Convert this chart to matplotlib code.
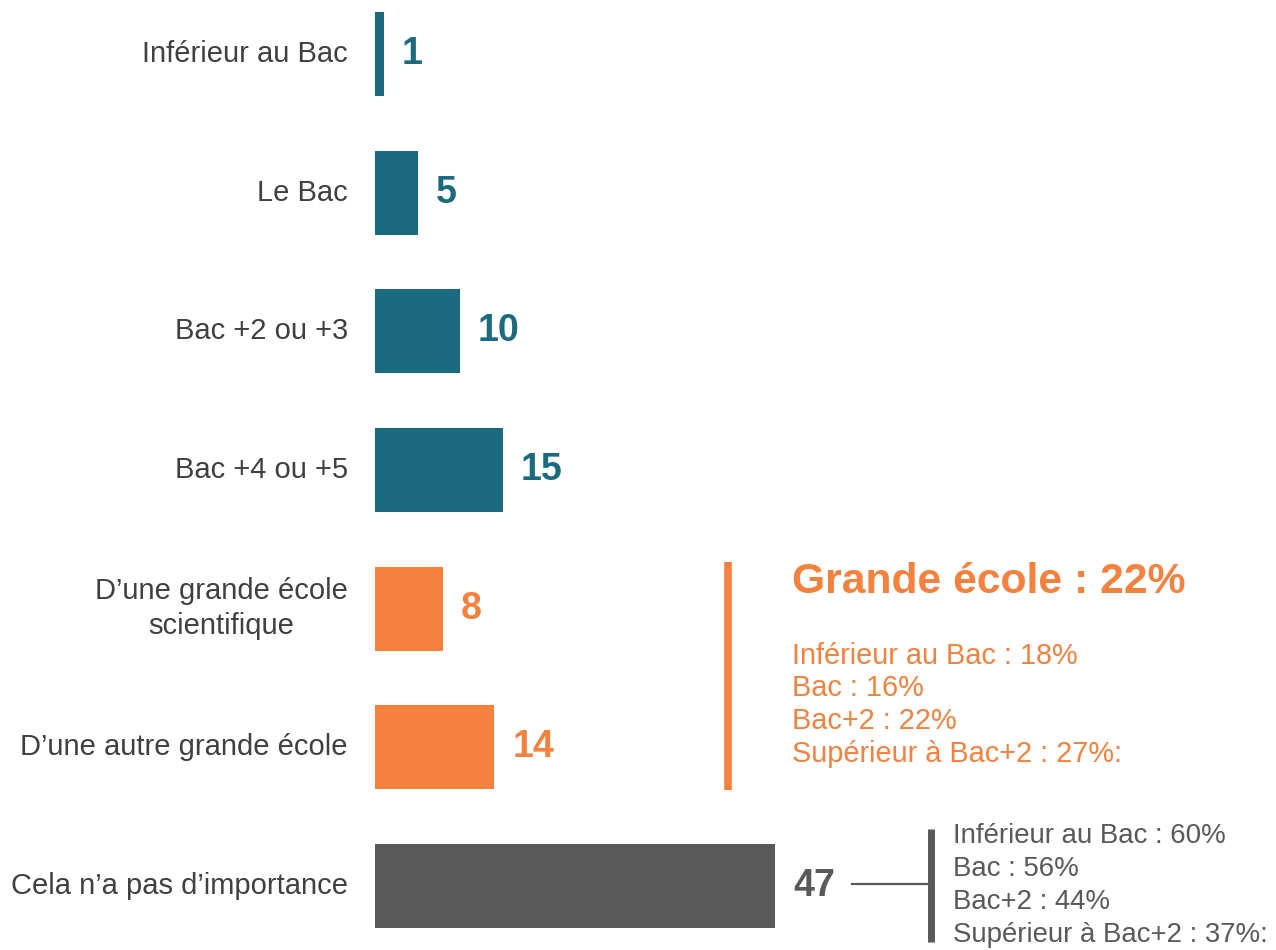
import matplotlib.pyplot as plt
from matplotlib.lines import Line2D

plt.rcParams['font.family'] = ['Liberation Sans', 'DejaVu Sans']

categories = ["Inférieur au Bac", "Le Bac", "Bac +2 ou +3", "Bac +4 ou +5",
              "D\u2019une grande école\nscientifique", "D\u2019une autre grande école",
              "Cela n\u2019a pas d\u2019importance"]
values = [1, 5, 10, 15, 8, 14, 47]

teal = "#1B6A80"
orange = "#F4813E"
gray = "#595959"
colors = [teal, teal, teal, teal, orange, orange, gray]

grande_title = "Grande école : 22%"
grande_lines = ["Inférieur au Bac : 18%", "Bac : 16%", "Bac+2 : 22%", "Supérieur à Bac+2 : 27%:"]
indiff_lines = ["Inférieur au Bac : 60%", "Bac : 56%", "Bac+2 : 44%", "Supérieur à Bac+2 : 37%:"]

W, H = 1276, 950
fig = plt.figure(figsize=(W / 100, H / 100), dpi=100)
ax = fig.add_axes([0, 0, 1, 1])

px = 400 / 47.0           # pixels per unit
step = 138.67             # pixels between bars
ax.set_xlim(-375 / px, (W - 375) / px)
ax.set_ylim((H - 54) / step, -54 / step)
ax.axis('off')

ypos = list(range(len(values)))
ax.barh(ypos, values, height=0.606, color=colors, left=0)

for y, v, c, lab in zip(ypos, values, colors, categories):
    ax.text(v + 18 / px, y, str(v), ha='left', va='center', fontsize=27,
            fontweight='bold', color=c)
    ax.text(-27 / px, y, lab, ha='right', va='center', fontsize=21,
            color='#404040', linespacing=1.3, multialignment='center')

def fx(x):
    return x / W

def fy(y):
    return 1 - y / H

# Grande école annotation
fig.add_artist(Line2D([fx(728), fx(728)], [fy(562), fy(790)], color=orange, lw=5.5,
                      solid_capstyle='butt'))
fig.text(fx(792), fy(582), grande_title, ha='left', va='center', fontsize=30.7,
         fontweight='bold', color=orange)
for i, t in enumerate(grande_lines):
    fig.text(fx(792), fy(656 + 32.5 * i), t, ha='left', va='center', fontsize=20.8,
             color=orange)

# Indifferent annotation
fig.add_artist(Line2D([fx(852), fx(930)], [fy(884), fy(884)], color=gray, lw=1.6))
fig.add_artist(Line2D([fx(931), fx(931)], [fy(829), fy(942)], color=gray, lw=5,
                      solid_capstyle='butt'))
for i, t in enumerate(indiff_lines):
    fig.text(fx(953), fy(836 + 33 * i), t, ha='left', va='center', fontsize=19.9,
             color=gray)

fig.savefig("out.png", dpi=100)
